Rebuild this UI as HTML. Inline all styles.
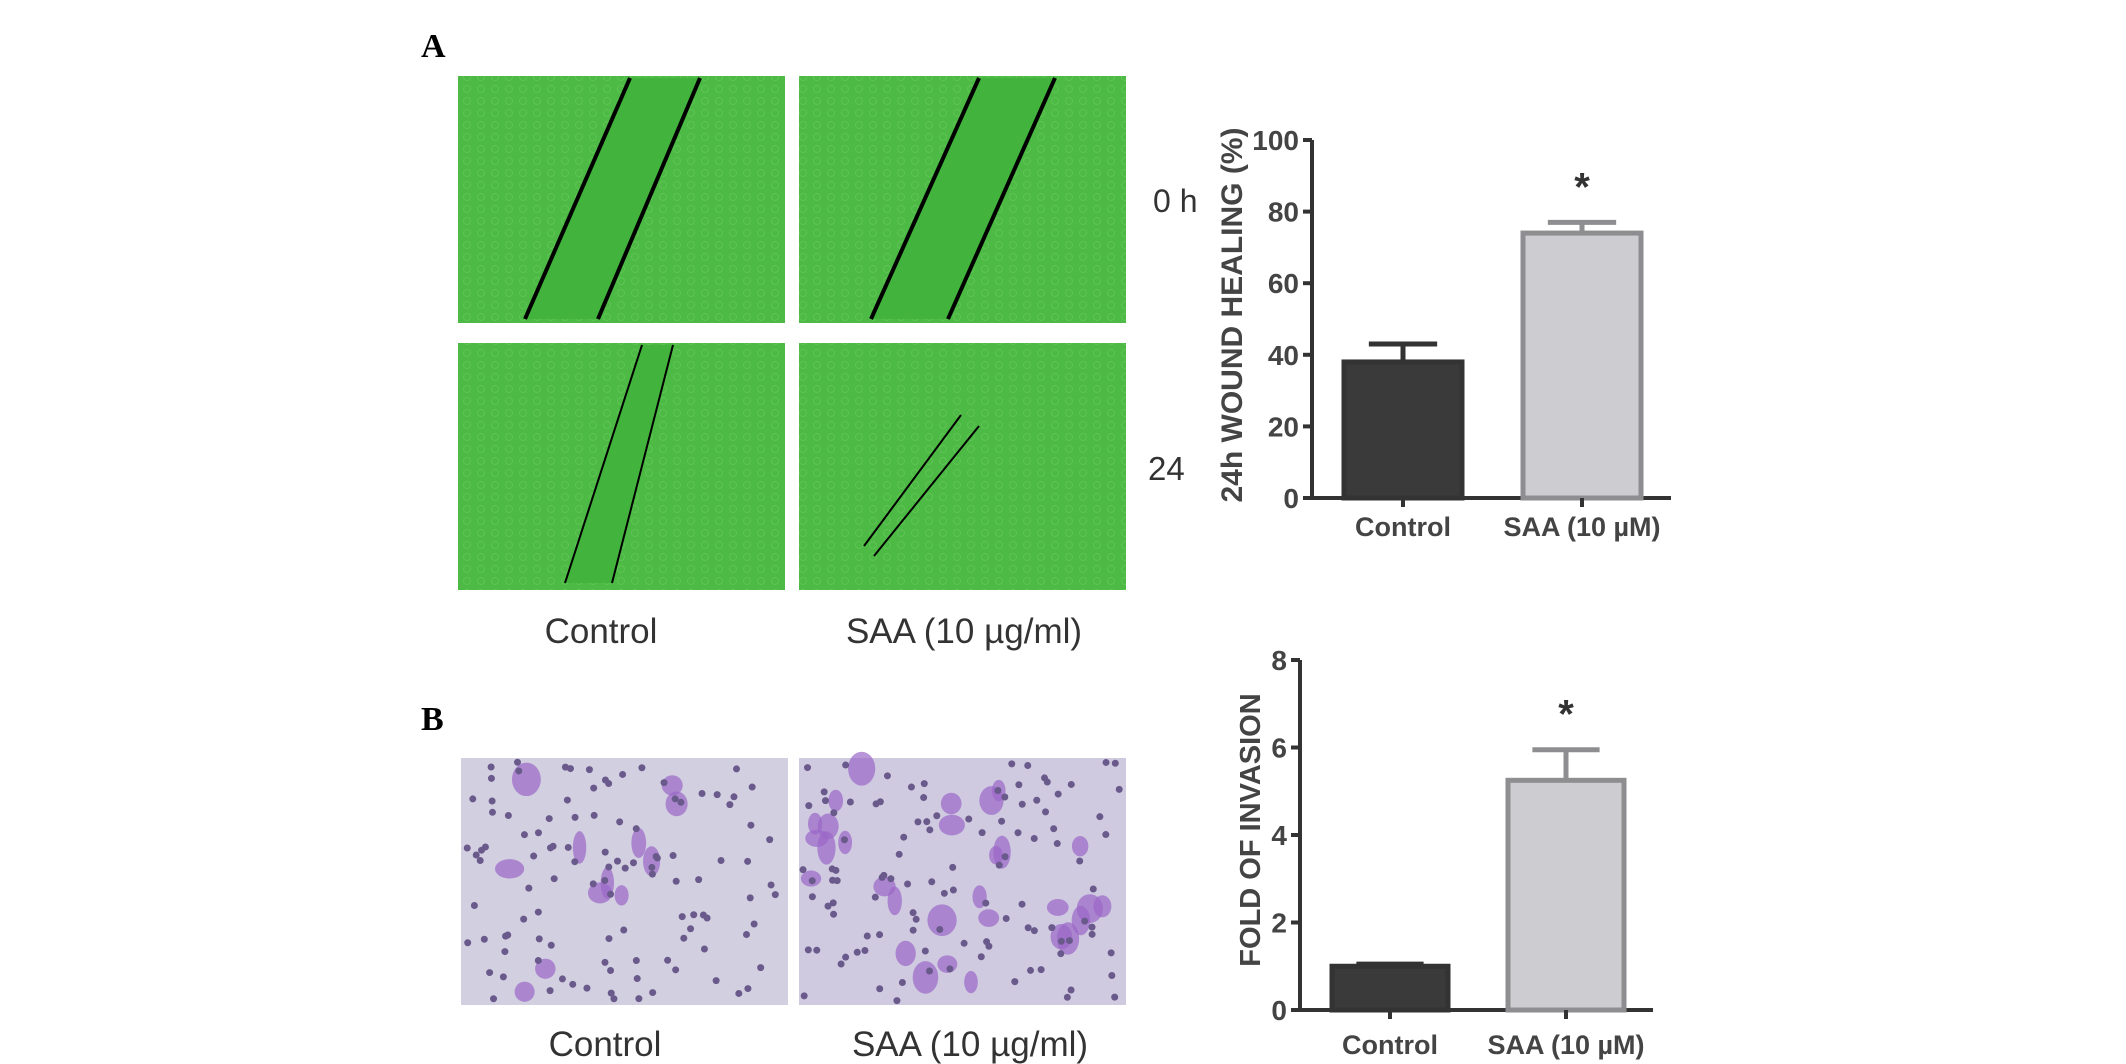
<!DOCTYPE html>
<html><head><meta charset="utf-8"><style>
html,body{margin:0;padding:0;background:#fff;}
body{width:2126px;height:1064px;position:relative;overflow:hidden;font-family:"Liberation Sans",sans-serif;}
svg{position:absolute;left:0;top:0;}
</style></head><body>
<svg id="fig" width="2126" height="1064" viewBox="0 0 2126 1064">
<defs>
<pattern id="cellsG" width="14" height="12" patternUnits="userSpaceOnUse"><rect width="14" height="12" fill="#4cba44"/><circle cx="5" cy="5" r="3.5" fill="none" stroke="#5ec454" stroke-width="1"/></pattern>
</defs>
<text x="421" y="57" font-family="Liberation Serif" font-weight="bold" font-size="34">A</text>
<text x="421" y="730" font-family="Liberation Serif" font-weight="bold" font-size="34">B</text>
<g>
<rect x="458" y="76" width="327" height="247" fill="url(#cellsG)"/>
<rect x="799" y="76" width="327" height="247" fill="url(#cellsG)"/>
<rect x="458" y="343" width="327" height="247" fill="url(#cellsG)"/>
<rect x="799" y="343" width="327" height="247" fill="url(#cellsG)"/>
<polygon points="630,78 700,78 598,319 525,319" fill="#42b33c"/>
<polygon points="979,78 1055,78 948,319 871,319" fill="#42b33c"/>
<polygon points="642,345 673,345 612,583 565,583" fill="#42b33c"/>
<g stroke="#000" stroke-width="4">
<line x1="630" y1="78" x2="525" y2="319"/><line x1="700" y1="78" x2="598" y2="319"/>
<line x1="979" y1="78" x2="871" y2="319"/><line x1="1055" y1="78" x2="948" y2="319"/>
</g>
<g stroke="#000" stroke-width="2">
<line x1="642" y1="345" x2="565" y2="583"/><line x1="673" y1="345" x2="612" y2="583"/>
<line x1="961" y1="415" x2="864" y2="546"/><line x1="979" y1="426" x2="874" y2="556"/>
</g>
</g>
<text x="1153" y="212" font-size="32" fill="#333">0 h</text>
<text x="1148" y="480" font-size="33" fill="#333">24</text>
<text x="601" y="643" font-size="35" fill="#333" text-anchor="middle">Control</text>
<text x="964" y="643" font-size="35" fill="#333" text-anchor="middle">SAA (10 µg/ml)</text>
<g id="invasion">
<rect x="461" y="758" width="327" height="247" fill="#d2cfe0"/>
<rect x="799" y="758" width="327" height="247" fill="#cfcae0"/>
</g>
<text x="605" y="1056" font-size="35" fill="#333" text-anchor="middle">Control</text>
<text x="970" y="1056" font-size="35" fill="#333" text-anchor="middle">SAA (10 µg/ml)</text>
<g id="chartA"></g>
<g id="chartB"></g>
</svg>
<script>
const catsA = ["Control", "SAA (10 µM)"];
const valsA = [38, 74];
const errA = [43, 77];
const ticksA = [0, 20, 40, 60, 80, 100];
const catsB = ["Control", "SAA (10 µM)"];
const valsB = [1.0, 5.25];
const errB = [1.05, 5.95];
const ticksB = [0, 2, 4, 6, 8];
const sigA = [false, true];
const sigB = [false, true];

const NS = "http://www.w3.org/2000/svg";
function mk(parent, tag, attrs, text) {
  const e = document.createElementNS(NS, tag);
  for (const k in attrs) e.setAttribute(k, attrs[k]);
  if (text !== undefined) e.textContent = text;
  parent.appendChild(e);
  return e;
}
function drawChart(g, cfg, cats, vals, errs, ticks, sig, title) {
  const max = ticks[ticks.length - 1];
  const y = v => cfg.y0 - (v / max) * (cfg.y0 - cfg.yTop);
  const x = i => cfg.x0 + cfg.gap + i * (cfg.bw + cfg.space);
  const ax = mk(g, "path", {d: `M${cfg.x0} ${cfg.yTop} V${cfg.y0} H${cfg.xEnd}`, stroke: "#333", "stroke-width": 4, fill: "none"});
  
  
  ticks.forEach(t => {
    mk(g, "line", {x1: cfg.x0 - 9, x2: cfg.x0, y1: y(t), y2: y(t), stroke: "#333", "stroke-width": 4});
    const tl = mk(g, "text", {x: cfg.x0 - 13, y: y(t) + 10, "text-anchor": "end", "font-size": 28, "font-weight": "bold", fill: "#444"}, t);
    
    
  });
  cats.forEach((c, i) => {
    const bx = x(i), cx = bx + cfg.bw / 2;
    const dark = i === 0;
    const er = mk(g, "path", {d: `M${cx} ${y(vals[i])} V${y(errs[i])} M${cx - cfg.bw * 0.28} ${y(errs[i])} H${cx + cfg.bw * 0.28}`, stroke: dark ? "#333" : "#8e8e90", "stroke-width": 5, fill: "none"});
    
    
    const b = mk(g, "rect", {x: bx + 2, y: y(vals[i]), width: cfg.bw - 4, height: cfg.y0 - y(vals[i]), fill: dark ? "#3a3a3a" : "#cdcdd1", stroke: dark ? "#333" : "#8e8e90", "stroke-width": 5});
    
    
    mk(g, "line", {x1: cx, x2: cx, y1: cfg.y0, y2: cfg.y0 + 9, stroke: "#333", "stroke-width": 4});
    const cl = mk(g, "text", {x: cx, y: cfg.labelY, "text-anchor": "middle", "font-size": 27, "font-weight": "bold", fill: "#444"}, c);
    
    
    if (sig[i]) {
      const s = mk(g, "text", {x: cx, y: y(errs[i]) - 22, "text-anchor": "middle", "font-size": 40, "font-weight": "bold", fill: "#333"}, "*");
      
      
    }
  });
  const tt = mk(g, "text", {x: cfg.titleX, y: cfg.titleY, "text-anchor": "middle", "font-size": cfg.titleSize, "font-weight": "bold", fill: "#444", transform: `rotate(-90 ${cfg.titleX} ${cfg.titleY})`}, title);
  
  
}
drawChart(document.getElementById("chartA"),
  {x0: 1312, y0: 498, yTop: 140, xEnd: 1671, gap: 30, bw: 122, space: 57, labelY: 536, titleX: 1242, titleY: 315, titleSize: 30},
  catsA, valsA, errA, ticksA, sigA, "24h WOUND HEALING (%)");
drawChart(document.getElementById("chartB"),
  {x0: 1300, y0: 1010, yTop: 660, xEnd: 1653, gap: 30, bw: 120, space: 56, labelY: 1054, titleX: 1260, titleY: 830, titleSize: 29},
  catsB, valsB, errB, ticksB, sigB, "FOLD OF INVASION");

// decorative texture for invasion micrographs
(function(){
  const g = document.getElementById("invasion");
  let s = 7;
  const rnd = () => { s = (s * 9301 + 49297) % 233280; return s / 233280; };
  [461, 799].forEach(ox => {
    const nBlob = ox === 461 ? 12 : 30;
    for (let i = 0; i < nBlob; i++) {
      mk(g, "ellipse", {cx: ox + 12 + rnd() * 303, cy: 768 + rnd() * 227, rx: 6 + rnd() * 9, ry: 8 + rnd() * 9, fill: "#9a66c8", opacity: 0.7});
    }
    for (let i = 0; i < 110; i++) {
      mk(g, "circle", {cx: ox + 4 + rnd() * 319, cy: 762 + rnd() * 239, r: 3.5, fill: "#6a5a8c"});
    }
  });
})();
</script>
</body></html>
